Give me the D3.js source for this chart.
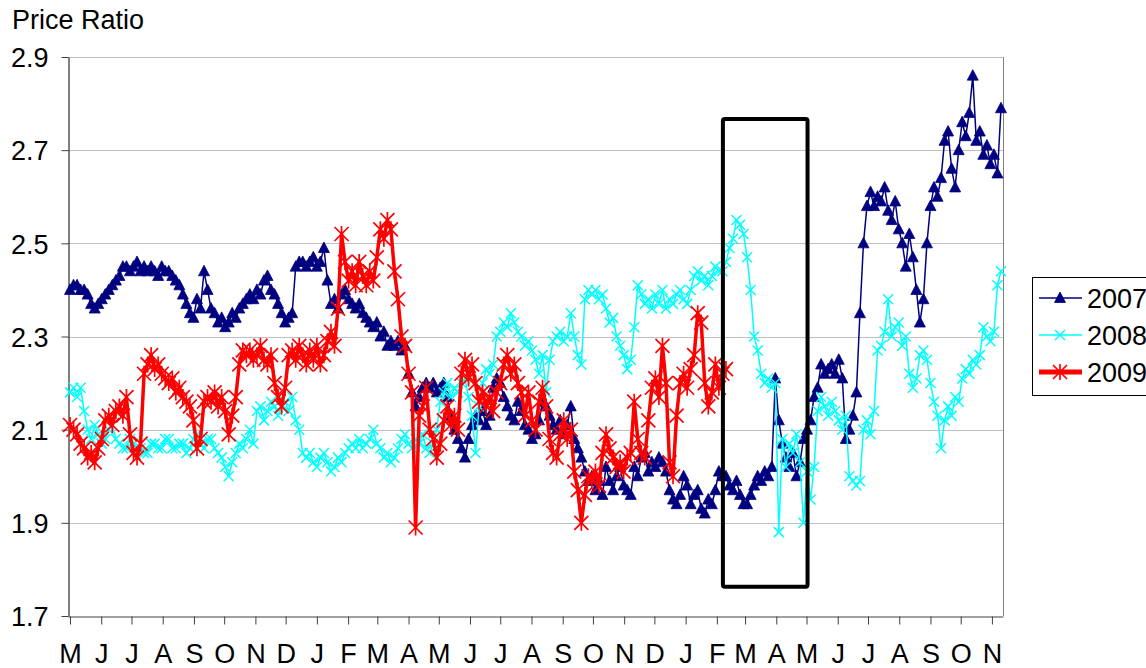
<!DOCTYPE html>
<html>
<head>
<meta charset="utf-8">
<script src="https://cdn.jsdelivr.net/npm/d3@7"></script>
<style>
  body { margin: 0; background: #fff; }
  svg { display: block; font-family: "Liberation Sans", Arial, sans-serif; }
</style>
</head>
<body>
<div id="chart"></div>
<script>
// readings twice a week (every 84 h), first reading 1 May 2007
var firstDay = new Date(2007, 4, 1);
var stepHours = 84;

var s2007 = [
  2.40,2.41,2.41,2.40,2.40,2.39,2.37,2.36,2.37,2.38, 2.39,2.40,2.41,2.42,2.43,2.45,2.45,2.44,2.45,2.46,
  2.44,2.45,2.44,2.45,2.44,2.43,2.45,2.44,2.44,2.43, 2.42,2.41,2.39,2.37,2.35,2.34,2.38,2.36,2.44,2.40,
  2.36,2.35,2.33,2.34,2.32,2.33,2.35,2.34,2.36,2.37, 2.38,2.39,2.38,2.40,2.39,2.42,2.43,2.40,2.39,2.37,
  2.35,2.33,2.34,2.35,2.45,2.46,2.46,2.45,2.46,2.47, 2.45,2.46,2.49,2.42,2.37,2.38,2.36,2.39,2.40,2.38,
  2.37,2.36,2.37,2.35,2.34,2.33,2.32,2.33,2.30,2.31, 2.28,2.29,2.28,2.29,2.27,2.28,2.22,2.18,2.15,2.17,
  2.19,2.20,2.19,2.20,2.18,2.19,2.20,2.17,2.13,2.10, 2.08,2.06,2.04,2.08,2.11,2.13,2.12,2.14,2.11,2.13,
  2.19,2.21,2.20,2.17,2.15,2.13,2.12,2.16,2.14,2.11, 2.10,2.08,2.09,2.12,2.16,2.15,2.13,2.11,2.10,2.12,
  2.09,2.11,2.15,2.08,2.06,2.04,2.01,1.99,2.00,1.97, 1.99,1.96,2.02,1.99,1.97,2.00,2.02,1.98,1.97,1.96,
  2.02,2.00,2.04,2.05,2.01,2.03,2.02,2.04,2.03,2.01, 1.97,1.95,1.94,1.96,2.00,1.98,1.94,1.96,1.97,1.93,
  1.92,1.95,1.94,1.97,2.01,2.00,2.00,1.98,1.97,1.99, 1.96,1.94,1.94,1.96,1.98,2.00,1.99,2.01,2.00,2.02,
  2.21,2.12,2.07,2.04,2.02,2.05,2.00,2.03,2.08,2.10, 2.12,2.17,2.19,2.24,2.22,2.23,2.24,2.22,2.25,2.21,
  2.08,2.10,2.13,2.18,2.35,2.50,2.58,2.61,2.58,2.60, 2.59,2.62,2.57,2.55,2.59,2.53,2.50,2.45,2.52,2.47,
  2.40,2.33,2.38,2.50,2.58,2.62,2.60,2.64,2.72,2.74, 2.66,2.62,2.70,2.76,2.73,2.78,2.86,2.72,2.74,2.69,
  2.71,2.67,2.69,2.65,2.79];

var s2008 = [
  2.18,2.19,2.17,2.19,2.14,2.10,2.08,2.11,2.09,2.07, 2.08,2.10,2.11,2.08,2.07,2.06,2.06,2.08,2.07,2.06,
  2.06,2.05,2.05,2.07,2.07,2.06,2.06,2.08,2.08,2.06, 2.06,2.07,2.07,2.05,2.06,2.08,2.09,2.07,2.06,2.08,
  2.08,2.06,2.05,2.04,2.02,2.00,2.03,2.05,2.07,2.06, 2.08,2.10,2.07,2.14,2.15,2.12,2.14,2.16,2.15,2.13,
  2.15,2.16,2.14,2.17,2.12,2.10,2.05,2.04,2.05,2.03, 2.02,2.04,2.05,2.03,2.01,2.02,2.04,2.03,2.05,2.06,
  2.07,2.06,2.08,2.06,2.07,2.08,2.10,2.07,2.06,2.04, 2.05,2.03,2.04,2.06,2.08,2.09,2.07,2.06,2.08,2.07,
  2.09,2.06,2.05,2.07,2.10,2.16,2.18,2.20,2.17,2.19, 2.18,2.20,2.21,2.17,2.13,2.05,2.15,2.20,2.23,2.22,
  2.24,2.30,2.31,2.33,2.32,2.35,2.33,2.31,2.30,2.28, 2.29,2.27,2.25,2.22,2.26,2.18,2.25,2.29,2.30,2.31,
  2.29,2.30,2.35,2.30,2.26,2.24,2.38,2.40,2.39,2.40, 2.38,2.39,2.36,2.33,2.34,2.30,2.28,2.26,2.23,2.25,
  2.32,2.41,2.39,2.37,2.38,2.36,2.39,2.37,2.40,2.36, 2.38,2.37,2.39,2.40,2.38,2.37,2.40,2.43,2.44,2.42,
  2.43,2.41,2.43,2.45,2.44,2.44,2.46,2.49,2.51,2.55, 2.54,2.52,2.47,2.40,2.30,2.27,2.22,2.20,2.21,2.19,
  2.20,1.88,2.08,2.02,2.07,2.05,2.09,2.03,1.90,2.01, 1.95,2.02,2.14,2.17,2.15,2.13,2.16,2.14,2.12,2.10,
  2.13,2.00,1.99,1.98,1.99,2.10,2.12,2.09,2.14,2.27, 2.28,2.31,2.38,2.30,2.32,2.33,2.28,2.30,2.22,2.19,
  2.21,2.26,2.27,2.25,2.20,2.16,2.13,2.06,2.12,2.15, 2.13,2.17,2.16,2.21,2.23,2.22,2.25,2.24,2.26,2.32,
  2.30,2.29,2.31,2.41,2.44];

var s2009 = [
  2.11,2.10,2.09,2.07,2.06,2.04,2.05,2.03,2.06,2.08, 2.12,2.13,2.11,2.14,2.15,2.13,2.17,2.09,2.05,2.04,
  2.07,2.22,2.24,2.26,2.23,2.24,2.22,2.21,2.20,2.21, 2.18,2.19,2.17,2.16,2.15,2.12,2.06,2.08,2.16,2.17,
  2.16,2.18,2.15,2.17,2.14,2.09,2.13,2.17,2.24,2.27, 2.26,2.27,2.25,2.26,2.28,2.25,2.24,2.26,2.20,2.17,
  2.15,2.19,2.26,2.27,2.25,2.28,2.26,2.24,2.27,2.25, 2.28,2.24,2.26,2.29,2.31,2.28,2.36,2.52,2.46,2.42,
  2.44,2.41,2.46,2.43,2.41,2.44,2.42,2.47,2.53,2.51, 2.55,2.53,2.44,2.38,2.30,2.28,2.22,2.18,1.89,2.13,
  2.15,2.19,2.10,2.08,2.04,2.07,2.12,2.15,2.11,2.13, 2.10,2.22,2.25,2.21,2.24,2.20,2.16,2.18,2.15,2.17,
  2.14,2.18,2.20,2.24,2.26,2.22,2.24,2.20,2.18,2.13, 2.18,2.12,2.10,2.16,2.19,2.15,2.08,2.05,2.04,2.09,
  2.12,2.08,2.10,2.01,1.97,1.90,1.96,2.00,1.99,2.01, 1.98,2.05,2.09,2.06,2.04,2.02,2.03,2.01,2.04,2.05,
  2.16,2.08,2.05,2.04,2.12,2.19,2.21,2.17,2.28,2.20, 2.03,2.00,2.13,2.20,2.22,2.19,2.23,2.26,2.35,2.33,
  2.20,2.15,2.18,2.24,2.19,2.22,2.23];

var seriesNames = ["2007", "2008", "2009"];
var monthLabels = ["M","J","J","A","S","O","N","D","J","F","M","A","M","J","J","A","S","O","N","D",
  "J","F","M","A","M","J","J","A","S","O","N"];
var yTicks = [1.7, 1.9, 2.1, 2.3, 2.5, 2.7, 2.9];

// highlighted window (Feb - early May 2009)
var boxFrom = new Date(2009, 1, 7), boxTo = new Date(2009, 4, 2);
var boxTop = 2.767, boxBottom = 1.763;

(function() {
var width = 1146, height = 668;
var pLeft = 68, pRight = 1003, pTop = 57, pBottom = 616;
var fontSize = "27px";

var x = d3.scaleTime()
    .domain([new Date(2007, 3, 29), new Date(2009, 10, 12)])
    .range([pLeft, pRight]);
var y = d3.scaleLinear().domain([1.7, 2.9]).range([pBottom, pTop]);

function toPoints(vals) {
    return vals.map(function(v, i) {
        return { date: d3.timeHour.offset(firstDay, i * stepHours), value: v };
    });
}

var svg = d3.select("#chart").append("svg")
    .attr("width", width)
    .attr("height", height);

// grid
svg.append("g").selectAll("line")
    .data(yTicks.slice(1))
    .enter().append("line")
    .attr("x1", pLeft).attr("x2", pRight)
    .attr("y1", function(d) { return Math.round(y(d)) + 0.5; })
    .attr("y2", function(d) { return Math.round(y(d)) + 0.5; })
    .attr("stroke", "#c0c0c0")
    .attr("stroke-width", 1);

svg.append("line")
    .attr("x1", pRight + 0.5).attr("x2", pRight + 0.5)
    .attr("y1", pTop).attr("y2", pBottom)
    .attr("stroke", "#808080");

// y axis
var yAxis = d3.axisLeft(y).tickValues(yTicks).tickSize(7).tickSizeOuter(0).tickFormat(d3.format(".1f"));
var gy = svg.append("g")
    .attr("transform", "translate(" + (pLeft + 0.5) + ",0)")
    .call(yAxis);
gy.select(".domain").attr("stroke", "#000");
gy.selectAll(".tick line").attr("stroke", "#404040");
gy.selectAll(".tick text")
    .attr("x", -20)
    .attr("dy", "0.36em")
    .style("font-size", fontSize)
    .style("font-family", "Liberation Sans, Arial, sans-serif")
    .attr("fill", "#000");

// x axis, month ticks with labels on the ticks
var months = d3.timeMonth.range(new Date(2007, 4, 1), new Date(2009, 10, 2));
var xAxis = d3.axisBottom(x).tickValues(months).tickSize(8).tickSizeOuter(0)
    .tickFormat(function(d, i) { return monthLabels[i]; });
var gx = svg.append("g")
    .attr("transform", "translate(0," + (pBottom + 0.5) + ")")
    .call(xAxis);
gx.select(".domain").attr("stroke", "#404040");
gx.selectAll(".tick line").attr("stroke", "#404040");
gx.selectAll(".tick text")
    .attr("y", 27)
    .style("font-size", fontSize)
    .style("font-family", "Liberation Sans, Arial, sans-serif")
    .attr("fill", "#000");

svg.append("text")
    .attr("x", 12).attr("y", 29)
    .style("font-size", fontSize)
    .text("Price Ratio");

// markers
function triangle(g, cx, cy, c) {
    g.append("path")
        .attr("d", "M" + cx + "," + (cy - 6) + "L" + (cx + 5.5) + "," + (cy + 4.5) + "L" + (cx - 5.5) + "," + (cy + 4.5) + "Z")
        .attr("fill", c).attr("stroke", c).attr("stroke-width", 0.8);
}
function cross(g, cx, cy, c) {
    var r = 5;
    g.append("path")
        .attr("d", "M" + (cx - r) + "," + (cy - r) + "L" + (cx + r) + "," + (cy + r) +
                   "M" + (cx + r) + "," + (cy - r) + "L" + (cx - r) + "," + (cy + r))
        .attr("stroke", c).attr("stroke-width", 1.5).attr("fill", "none");
}
function star(g, cx, cy, c) {
    var r = 7;
    g.append("path")
        .attr("d", "M" + (cx - r) + "," + (cy - r) + "L" + (cx + r) + "," + (cy + r) +
                   "M" + (cx + r) + "," + (cy - r) + "L" + (cx - r) + "," + (cy + r) +
                   "M" + cx + "," + (cy - r - 1) + "L" + cx + "," + (cy + r + 1))
        .attr("stroke", c).attr("stroke-width", 1.7).attr("fill", "none");
}

var series = [
    { name: seriesNames[0], data: toPoints(s2007), color: "#000080", width: 1.5, marker: triangle },
    { name: seriesNames[1], data: toPoints(s2008), color: "#00FFFF", width: 1.5, marker: cross },
    { name: seriesNames[2], data: toPoints(s2009), color: "#FF0000", width: 3.5, marker: star }
];

var line = d3.line()
    .x(function(d) { return x(d.date); })
    .y(function(d) { return y(d.value); });

series.forEach(function(s) {
    var g = svg.append("g");
    g.append("path")
        .datum(s.data)
        .attr("d", line)
        .attr("fill", "none")
        .attr("stroke", s.color)
        .attr("stroke-width", s.width)
        .attr("stroke-linejoin", "round");
    s.data.forEach(function(d) {
        s.marker(g, x(d.date), y(d.value), s.color);
    });
});

// annotation box
svg.append("rect")
    .attr("x", x(boxFrom)).attr("y", y(boxTop))
    .attr("width", x(boxTo) - x(boxFrom))
    .attr("height", y(boxBottom) - y(boxTop))
    .attr("rx", 2)
    .attr("fill", "none")
    .attr("stroke", "#000")
    .attr("stroke-width", 4);

// legend
var lg = svg.append("g").attr("transform", "translate(1032,277)");
lg.append("rect")
    .attr("x", 0.5).attr("y", 0.5)
    .attr("width", 140).attr("height", 118)
    .attr("fill", "#fff").attr("stroke", "#000");
series.forEach(function(s, i) {
    var cy = 21 + i * 37;
    lg.append("line")
        .attr("x1", 7).attr("x2", 50)
        .attr("y1", cy).attr("y2", cy)
        .attr("stroke", s.color)
        .attr("stroke-width", i == 2 ? 5 : 1.5);
    s.marker(lg, 28, cy, s.color);
    lg.append("text")
        .attr("x", 55).attr("y", cy + 10)
        .style("font-size", fontSize)
        .text(s.name);
});
})();
</script>
</body>
</html>
